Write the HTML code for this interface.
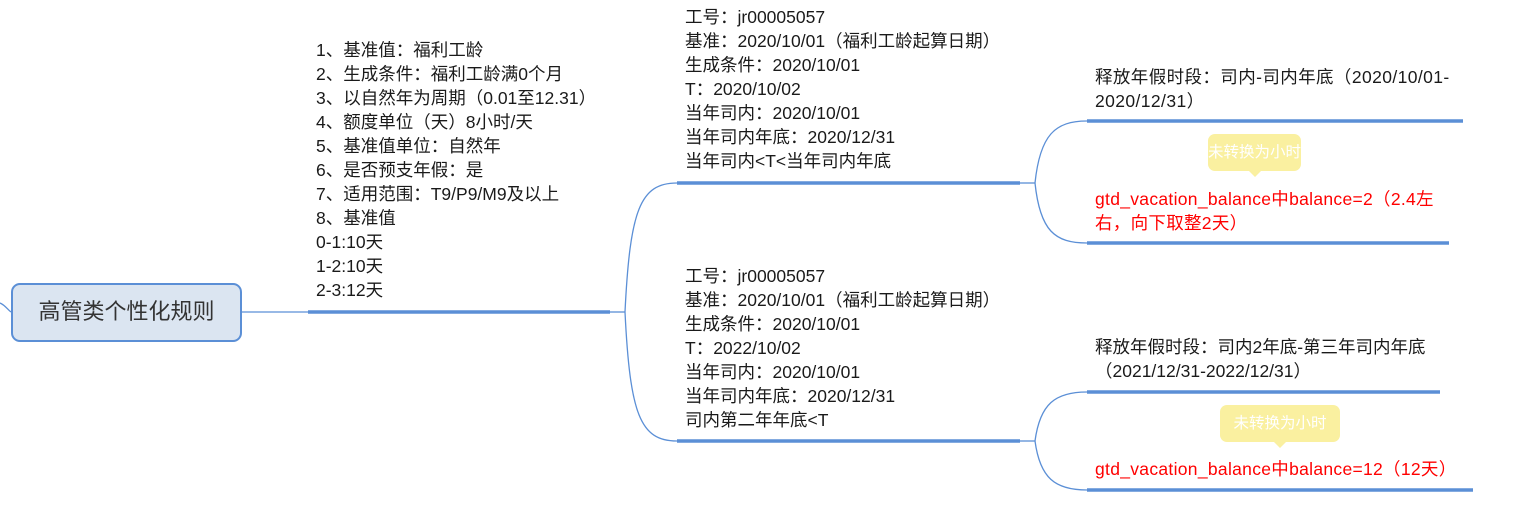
<!DOCTYPE html>
<html><head><meta charset="utf-8"><style>
body{margin:0;width:1536px;height:517px;background:#fff;position:relative;overflow:hidden;font-family:"Liberation Sans","Noto Sans CJK SC",sans-serif;}
.t{position:absolute;font-size:17.5px;line-height:24px;color:#1a1a1a;white-space:nowrap;}
.r{color:#f00;letter-spacing:0.3px;}
.tip{position:absolute;background:#faf0a0;color:#fff;font-size:15.5px;border-radius:7px;text-align:center;line-height:37px;white-space:nowrap;}
.tip:after{content:"";position:absolute;left:50%;bottom:-6px;margin-left:-6px;border-left:6px solid transparent;border-right:6px solid transparent;border-top:6px solid #faf0a0;}
</style></head><body>
<svg width="1536" height="517" style="position:absolute;left:0;top:0">
<g fill="none" stroke="#5b8fd6" stroke-width="1.3">
<path d="M0 303 C5 305,8 310,11 312"/>
<path d="M241 312 L308 312"/>
<path d="M610 312 L625 312"/>
<path d="M625 312 C630 210,640 183,677 183"/>
<path d="M625 312 C630 414,640 441,677 441"/>
<path d="M1020 183 L1035 183"/>
<path d="M1035 183 C1040 135,1055 121,1087 121"/>
<path d="M1035 183 C1040 231,1055 243,1087 243"/>
<path d="M1020 441 L1035 441"/>
<path d="M1035 441 C1040 404,1055 392,1087 392"/>
<path d="M1035 441 C1040 478,1055 490,1087 490"/>
</g>
<g stroke="#5b8fd6" stroke-width="3.5">
<line x1="308" y1="312" x2="610" y2="312"/>
<line x1="677" y1="183" x2="1020" y2="183"/>
<line x1="677" y1="441" x2="1020" y2="441"/>
<line x1="1087" y1="121" x2="1463" y2="121"/>
<line x1="1087" y1="243" x2="1449" y2="243"/>
<line x1="1087" y1="392" x2="1440" y2="392"/>
<line x1="1087" y1="490" x2="1473" y2="490"/>
</g>
<rect x="12" y="284" width="229" height="57" rx="8" fill="#dbe5f1" stroke="#5b8fd6" stroke-width="2"/>
</svg>
<div class="t" style="left:12px;top:298px;width:229px;text-align:center;font-size:22px;line-height:28px;color:#333">高管类个性化规则</div>
<div class="t" style="left:316px;top:38px">1、基准值：福利工龄<br>2、生成条件：福利工龄满0个月<br>3、以自然年为周期（0.01至12.31）<br>4、额度单位（天）8小时/天<br>5、基准值单位：自然年<br>6、是否预支年假：是<br>7、适用范围：T9/P9/M9及以上<br>8、基准值<br>0-1:10天<br>1-2:10天<br>2-3:12天</div>
<div class="t" style="left:685px;top:5px">工号：jr00005057<br>基准：2020/10/01（福利工龄起算日期）<br>生成条件：2020/10/01<br>T：2020/10/02<br>当年司内：2020/10/01<br>当年司内年底：2020/12/31<br>当年司内&lt;T&lt;当年司内年底</div>
<div class="t" style="left:685px;top:264px">工号：jr00005057<br>基准：2020/10/01（福利工龄起算日期）<br>生成条件：2020/10/01<br>T：2022/10/02<br>当年司内：2020/10/01<br>当年司内年底：2020/12/31<br>司内第二年年底&lt;T</div>
<div class="t" style="left:1095px;top:65px;letter-spacing:0.4px">释放年假时段：司内-司内年底（2020/10/01-<br>2020/12/31）</div>
<div class="tip" style="left:1208px;top:134px;width:93px">未转换为小时</div>
<div class="t r" style="left:1095px;top:187px">gtd_vacation_balance中balance=2（2.4左<br>右，向下取整2天）</div>
<div class="t" style="left:1095px;top:335px">释放年假时段：司内2年底-第三年司内年底<br>（2021/12/31-2022/12/31）</div>
<div class="tip" style="left:1220px;top:405px;width:120px">未转换为小时</div>
<div class="t r" style="left:1095px;top:457px">gtd_vacation_balance中balance=12（12天）</div>
</body></html>
